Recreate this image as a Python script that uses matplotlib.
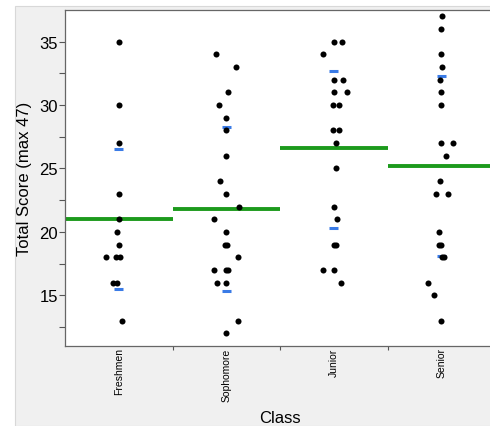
import matplotlib.pyplot as plt
from matplotlib.patches import Rectangle

# ============================================
# Data
# ============================================

classes = ['Freshmen', 'Sophomore', 'Junior', 'Senior']

freshmen = [35, 30, 27, 23, 21, 20, 19, 18, 18, 18, 16, 16, 13]
freshmen_jit = [0, 0, 0, 0, 0, -0.02, 0, -0.12, -0.03, 0.01, -0.05, -0.02, 0.03]

sophomore = [34, 33, 31, 30, 29, 28, 26, 24, 23, 22, 21, 20, 19, 19, 18,
             17, 17, 17, 16, 16, 13, 12]
sophomore_jit = [-0.10, 0.095, 0.02, -0.07, 0, 0, 0, -0.06, 0, 0.12, -0.11, 0,
                 -0.01, 0.005, 0.11, -0.11, 0, 0.02, -0.085, 0, 0.11, 0]

junior = [35, 35, 34, 32, 32, 31, 31, 30, 30, 28, 28, 27, 25, 22, 21,
          19, 19, 17, 17, 16]
junior_jit = [0, 0.08, -0.10, 0, 0.09, 0, 0.12, -0.01, 0.05, -0.01, 0.05,
              0.02, 0.02, 0, 0.03, 0, 0.02, -0.10, 0, 0.065]

senior = [37, 36, 34, 33, 32, 31, 30, 27, 27, 26, 24, 23, 23, 20, 19, 19,
          18, 18, 16, 15, 13]
senior_jit = [0.01, 0, 0, 0.01, -0.01, 0, 0, 0, 0.11, 0.045, -0.01, -0.05,
              0.06, -0.02, -0.02, 0, 0.01, 0.03, -0.12, -0.07, 0]

scores = [freshmen, sophomore, junior, senior]
jitter = [freshmen_jit, sophomore_jit, junior_jit, senior_jit]

means = [21.0, 21.8, 26.6, 25.2]      # green lines
upper = [26.5, 28.3, 32.7, 32.3]      # blue marks (mean + sd)
lower = [15.5, 15.3, 20.3, 18.1]      # blue marks (mean - sd)

# ============================================
# Figure
# ============================================

plt.rcParams['font.family'] = ['Liberation Sans', 'DejaVu Sans']

fig = plt.figure(figsize=(4.9, 4.27), dpi=100, facecolor='white')
# gray panel behind the plot (white strip on the left and top)
fig.patches.append(Rectangle((15 / 490, 0), 1, (427 - 7) / 427,
                             transform=fig.transFigure, facecolor='#f0f0f0',
                             edgecolor='#d8d8d8', linewidth=0.8, zorder=-10))

ax = fig.add_axes([65 / 490, (427 - 347) / 427, 430 / 490, 336 / 427])
ax.set_facecolor('white')

green = '#1c9a1c'
blue = '#3a7be6'

for i in range(len(classes)):
    xs = [i + j for j in jitter[i]]
    ax.scatter(xs, scores[i], s=19, color='black', zorder=4, linewidths=0)
    ax.hlines(means[i], i - 0.5, i + 0.5, color=green, linewidth=2.8, zorder=2)
    ax.hlines([upper[i], lower[i]], i - 0.04, i + 0.04, color=blue,
              linewidth=2.2, zorder=3)

ax.set_xlim(-0.5, 3.5)
ax.set_ylim(11.0, 37.5)

# y axis
ax.set_yticks([15, 20, 25, 30, 35])
ax.set_yticks([12.5, 17.5, 22.5, 27.5, 32.5], minor=True)
ax.tick_params(axis='y', which='both', length=4, width=0.8, color='#555555',
               labelsize=12, pad=1)
ax.set_ylabel('Total Score (max 47)', fontsize=12, labelpad=5)

# x axis: ticks at boundaries, labels at centers
ax.set_xticks([0.5, 1.5, 2.5])
ax.set_xticklabels([])
ax.set_xticks(range(len(classes)), minor=True)
ax.set_xticklabels(classes, minor=True, rotation=90, fontsize=7.5)
ax.tick_params(axis='x', which='major', length=3, width=0.8, color='#555555')
ax.tick_params(axis='x', which='minor', length=0, pad=1)
ax.set_xlabel('Class', fontsize=12, labelpad=7)

for sp in ax.spines.values():
    sp.set_color('#666666')
    sp.set_linewidth(0.9)

plt.savefig('out.png', dpi=100, facecolor=fig.get_facecolor())
